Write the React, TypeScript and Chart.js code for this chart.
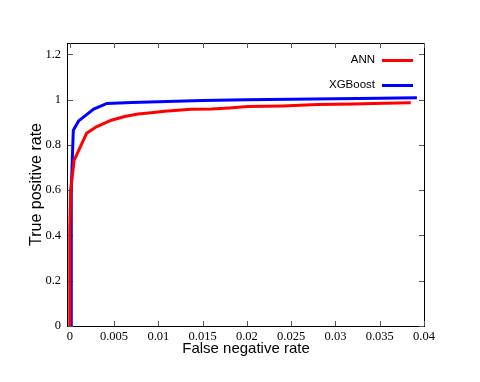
import React, { useEffect, useRef } from "react";
import { Chart, registerables } from "chart.js";

Chart.register(...registerables);

// ANN curve (false negative rate vs true positive rate)
const annFNR = [0, 0, 0.0001, 0.0005, 0.0019, 0.003, 0.0047, 0.0062, 0.0077, 0.0092, 0.0107, 0.0122, 0.0137, 0.016, 0.018, 0.0201, 0.024, 0.028, 0.032, 0.0355, 0.0385];
const annTPR = [0, 0.42, 0.6, 0.733, 0.851, 0.88, 0.909, 0.925, 0.936, 0.942, 0.949, 0.953, 0.957, 0.958, 0.963, 0.969, 0.972, 0.978, 0.981, 0.984, 0.986];

// XGBoost curve
const xgbFNR = [0.00017, 0.00017, 0.0004, 0.001, 0.0027, 0.0042, 0.007, 0.01, 0.015, 0.02, 0.025, 0.03, 0.035, 0.0392];
const xgbTPR = [0, 0.6, 0.865, 0.906, 0.958, 0.983, 0.987, 0.991, 0.996, 0.999, 1.001, 1.004, 1.006, 1.008];

const seriesNames = ["ANN", "XGBoost"];
const seriesColors = ["#ff0000", "#0000ff"];

const xTitle = "False negative rate";
const yTitle = "True positive rate";
const xTicks = [0, 0.005, 0.01, 0.015, 0.02, 0.025, 0.03, 0.035, 0.04];
const yTicks = [0, 0.2, 0.4, 0.6, 0.8, 1, 1.2];
const xMin = -0.0002, xMax = 0.04;
const yMin = 0, yMax = 1.25;

const fmt = (v: number) => String(+v.toFixed(4));

export default function App() {
  const ref = useRef<HTMLCanvasElement | null>(null);
  useEffect(() => {
    document.body.style.margin = "0";
    const canvas = ref.current!;
    const frame = {
      id: "frame",
      beforeDatasetsDraw(chart: any) {
        const { ctx, chartArea: a, scales } = chart;
        const xs = scales.x, ys = scales.y;
        ctx.save();
        ctx.strokeStyle = "#000";
        ctx.lineWidth = 1;
        ctx.strokeRect(Math.round(a.left) - 0.5, Math.round(a.top) + 0.5, Math.round(a.right - a.left) + 1, Math.round(a.bottom - a.top));
        ctx.strokeStyle = "#555";
        const tl = 5;
        ctx.beginPath();
        xs.ticks.forEach((t: any) => {
          const px = Math.round(xs.getPixelForValue(t.value)) + 0.5;
          ctx.moveTo(px, a.bottom);
          ctx.lineTo(px, a.bottom - tl);
          ctx.moveTo(px, a.top);
          ctx.lineTo(px, a.top + tl);
        });
        ys.ticks.forEach((t: any) => {
          const py = Math.round(ys.getPixelForValue(t.value)) + 0.5;
          ctx.moveTo(a.left, py);
          ctx.lineTo(a.left + tl, py);
          ctx.moveTo(a.right, py);
          ctx.lineTo(a.right - tl, py);
        });
        ctx.stroke();
        ctx.restore();
      },
      afterDraw(chart: any) {
        const { ctx, chartArea: a } = chart;
        ctx.save();
        // axis titles
        ctx.fillStyle = "#000";
        ctx.textAlign = "center";
        ctx.textBaseline = "middle";
        ctx.font = '15px "Liberation Sans", Arial, sans-serif';
        ctx.fillText(xTitle, (a.left + a.right) / 2, 349);
        ctx.save();
        ctx.translate(37, (a.top + a.bottom) / 2);
        ctx.rotate(-Math.PI / 2);
        ctx.font = '16px "Liberation Sans", Arial, sans-serif';
        ctx.fillText(yTitle, 0, 0);
        ctx.restore();

        // legend
        ctx.font = '11.5px "Liberation Sans", Arial, sans-serif';
        ctx.textAlign = "right";
        seriesNames.forEach((n, i) => {
          const y = 60 + i * 25;
          ctx.fillStyle = "#000";
          ctx.fillText(n, 375, y);
          ctx.strokeStyle = seriesColors[i];
          ctx.lineWidth = 3;
          ctx.beginPath();
          ctx.moveTo(382, y + 0.5);
          ctx.lineTo(413, y + 0.5);
          ctx.stroke();
        });
        ctx.restore();
      },
    };
    const chart = new Chart(canvas, {
      type: "scatter",
      data: {
        datasets: [
          {
            label: seriesNames[0],
            data: annFNR.map((x, i) => ({ x, y: annTPR[i] })),
            borderColor: seriesColors[0],
            backgroundColor: seriesColors[0],
            borderWidth: 3,
            showLine: true,
            pointRadius: 0,
            tension: 0,
          },
          {
            label: seriesNames[1],
            data: xgbFNR.map((x, i) => ({ x, y: xgbTPR[i] })),
            borderColor: seriesColors[1],
            backgroundColor: seriesColors[1],
            borderWidth: 3,
            showLine: true,
            pointRadius: 0,
            tension: 0,
          },
        ],
      },
      options: {
        animation: false,
        responsive: false,
        devicePixelRatio: 1,
        layout: { padding: { top: 43, right: 56, left: 0, bottom: 0 } },
        plugins: { legend: { display: false }, tooltip: { enabled: false } },
        scales: {
          x: {
            type: "linear",
            min: xMin,
            max: xMax,
            border: { display: false },
            grid: { display: false, drawTicks: false },
            ticks: {
              padding: 3,
              color: "#000",
              maxRotation: 0,
              autoSkip: false,
              font: { family: '"Liberation Serif", "Times New Roman", serif', size: 12.5 },
              callback: (v: any) => fmt(Number(v)),
            },
            afterBuildTicks: (s: any) => { s.ticks = xTicks.map((value) => ({ value })); },
            afterFit: (s: any) => { s.height = 56; },
          },
          y: {
            type: "linear",
            min: yMin,
            max: yMax,
            border: { display: false },
            grid: { display: false, drawTicks: false },
            ticks: {
              padding: 7,
              color: "#000",
              autoSkip: false,
              font: { family: '"Liberation Serif", "Times New Roman", serif', size: 12.5 },
              callback: (v: any) => fmt(Number(v)),
            },
            afterBuildTicks: (s: any) => { s.ticks = yTicks.map((value) => ({ value })); },
            afterFit: (s: any) => { s.width = 68; },
          },
        },
      },
      plugins: [frame],
    });
    return () => chart.destroy();
  }, []);
  return (
    <div style={{ width: 480, height: 382 }}>
      <canvas ref={ref} width={480} height={382} style={{ display: "block" }} />
    </div>
  );
}
